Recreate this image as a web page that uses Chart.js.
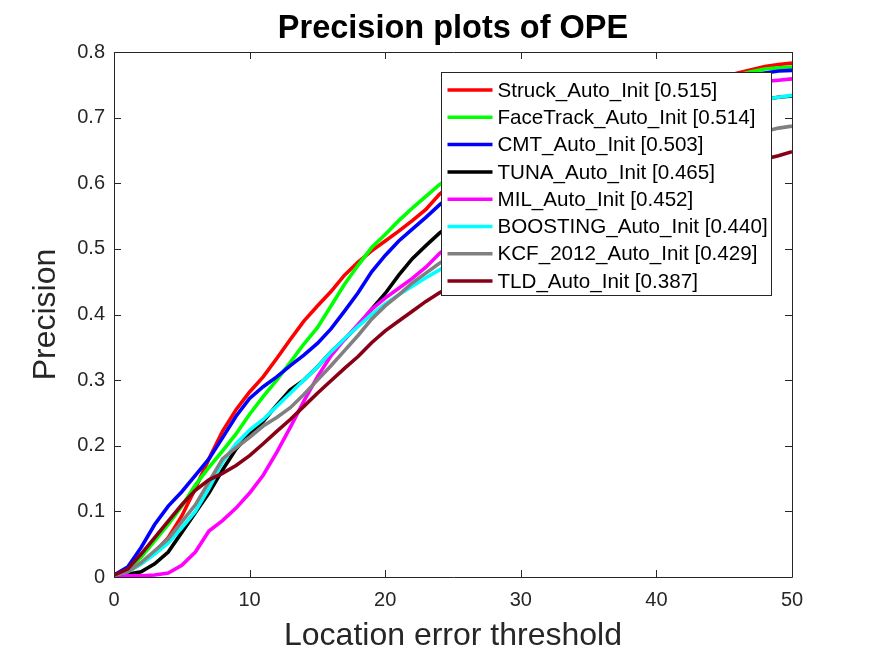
<!DOCTYPE html>
<html>
<head>
<meta charset="utf-8">
<script src="https://cdn.jsdelivr.net/npm/chart.js@4.4.0/dist/chart.umd.min.js"></script>
<style>
html,body{margin:0;padding:0;background:#fff;}
#wrap{position:relative;width:875px;height:656px;}
</style>
</head>
<body>
<div id="wrap"><canvas id="c"></canvas></div>
<script>
const thresholds = [0,1,2,3,4,5,6,7,8,9,10,11,12,13,14,15,16,17,18,19,20,21,22,23,24,25,26,27,28,29,30,31,32,33,34,35,36,37,38,39,40,41,42,43,44,45,46,47,48,49,50];
const trackerNames = ['Struck_Auto_Init','FaceTrack_Auto_Init','CMT_Auto_Init','TUNA_Auto_Init','MIL_Auto_Init','BOOSTING_Auto_Init','KCF_2012_Auto_Init','TLD_Auto_Init'];
const trackerScores = ['0.515','0.514','0.503','0.465','0.452','0.440','0.429','0.387'];
const trackerColors = ['#ff0000','#00ff00','#0000ff','#000000','#ff00ff','#00ffff','#808080','#880015'];
const xTicks = [0,10,20,30,40,50];
const yTicks = [0,0.1,0.2,0.3,0.4,0.5,0.6,0.7,0.8];

const struck = [0.003,0.008,0.02,0.038,0.06,0.093,0.135,0.18,0.222,0.255,0.282,0.305,0.333,0.362,0.39,0.413,0.435,0.46,0.48,0.497,0.512,0.527,0.543,0.56,0.583,0.6,0.615,0.628,0.641,0.653,0.664,0.674,0.684,0.693,0.701,0.709,0.716,0.723,0.729,0.735,0.74,0.745,0.75,0.754,0.758,0.762,0.768,0.773,0.778,0.781,0.783];
const faceTrack = [0.003,0.01,0.03,0.055,0.08,0.108,0.14,0.167,0.192,0.218,0.248,0.275,0.3,0.327,0.355,0.38,0.413,0.446,0.475,0.502,0.522,0.543,0.562,0.58,0.598,0.613,0.627,0.64,0.652,0.663,0.673,0.682,0.691,0.699,0.706,0.713,0.72,0.726,0.732,0.737,0.742,0.747,0.751,0.755,0.759,0.762,0.765,0.77,0.774,0.776,0.777];
const cmt = [0.003,0.015,0.045,0.08,0.108,0.13,0.155,0.18,0.212,0.245,0.272,0.29,0.305,0.322,0.338,0.356,0.378,0.405,0.433,0.465,0.49,0.512,0.53,0.548,0.567,0.584,0.6,0.615,0.629,0.642,0.654,0.665,0.675,0.684,0.693,0.701,0.709,0.716,0.723,0.729,0.735,0.74,0.745,0.75,0.754,0.758,0.762,0.765,0.768,0.771,0.772];
const tuna = [0.003,0.004,0.008,0.02,0.038,0.068,0.098,0.128,0.163,0.195,0.218,0.237,0.262,0.285,0.3,0.32,0.343,0.362,0.383,0.408,0.432,0.46,0.485,0.505,0.524,0.54,0.555,0.569,0.582,0.595,0.607,0.618,0.629,0.639,0.649,0.658,0.667,0.675,0.683,0.69,0.697,0.703,0.708,0.713,0.717,0.721,0.724,0.726,0.728,0.731,0.733];
const mil = [0.002,0.002,0.002,0.003,0.006,0.018,0.038,0.07,0.086,0.105,0.128,0.155,0.19,0.228,0.268,0.305,0.337,0.362,0.385,0.408,0.425,0.44,0.455,0.472,0.493,0.51,0.527,0.543,0.559,0.575,0.59,0.604,0.618,0.631,0.643,0.655,0.666,0.677,0.687,0.697,0.706,0.714,0.721,0.728,0.734,0.74,0.745,0.75,0.755,0.757,0.759];
const boosting = [0.003,0.008,0.02,0.035,0.052,0.075,0.1,0.135,0.175,0.203,0.224,0.24,0.26,0.28,0.3,0.32,0.343,0.363,0.382,0.4,0.416,0.43,0.443,0.456,0.468,0.482,0.497,0.512,0.527,0.542,0.557,0.571,0.585,0.598,0.611,0.623,0.635,0.646,0.657,0.667,0.676,0.685,0.693,0.701,0.708,0.714,0.72,0.725,0.728,0.731,0.734];
const kcf2012 = [0.003,0.008,0.022,0.04,0.058,0.084,0.11,0.145,0.18,0.197,0.213,0.23,0.243,0.258,0.278,0.3,0.322,0.345,0.368,0.393,0.413,0.43,0.448,0.463,0.478,0.49,0.502,0.513,0.524,0.535,0.545,0.555,0.565,0.574,0.583,0.592,0.6,0.608,0.616,0.623,0.63,0.637,0.643,0.649,0.655,0.661,0.667,0.673,0.679,0.684,0.687];
const tld = [0.003,0.012,0.035,0.06,0.085,0.11,0.132,0.148,0.158,0.17,0.185,0.203,0.222,0.24,0.26,0.28,0.299,0.318,0.336,0.357,0.375,0.39,0.405,0.42,0.433,0.445,0.457,0.468,0.479,0.489,0.499,0.509,0.518,0.527,0.536,0.545,0.554,0.562,0.57,0.578,0.586,0.594,0.601,0.608,0.615,0.621,0.627,0.632,0.637,0.642,0.648];

const seriesValues = [struck, faceTrack, cmt, tuna, mil, boosting, kcf2012, tld];

const FONT = "'Liberation Sans', Arial, Helvetica, sans-serif";
const AXIS_COLOR = '#262626';

const datasets = seriesValues.map((vals, i) => ({
  label: trackerNames[i] + ' [' + trackerScores[i] + ']',
  data: thresholds.map((t, k) => ({x: t, y: vals[k]})),
  borderColor: trackerColors[i],
  backgroundColor: trackerColors[i],
  borderWidth: 3.6,
  pointRadius: 0,
  tension: 0,
  fill: false,
  order: seriesValues.length - i
}));

const frameAndTicks = {
  id: 'frameAndTicks',
  afterDatasetsDraw(chart) {
    const {ctx, chartArea: a, scales} = chart;
    ctx.save();
    ctx.strokeStyle = AXIS_COLOR;
    ctx.lineWidth = 1;
    ctx.beginPath();
    ctx.rect(Math.round(a.left) + 0.5, Math.round(a.top) + 0.5, Math.round(a.right - a.left), Math.round(a.bottom - a.top));
    ctx.stroke();
    const tl = 7;
    ctx.beginPath();
    xTicks.forEach(v => {
      const px = Math.round(scales.x.getPixelForValue(v)) + 0.5;
      ctx.moveTo(px, a.bottom); ctx.lineTo(px, a.bottom - tl);
      ctx.moveTo(px, a.top); ctx.lineTo(px, a.top + tl);
    });
    yTicks.forEach(v => {
      const py = Math.round(scales.y.getPixelForValue(v)) + 0.5;
      ctx.moveTo(a.left, py); ctx.lineTo(a.left + tl, py);
      ctx.moveTo(a.right, py); ctx.lineTo(a.right - tl, py);
    });
    ctx.stroke();

    // legend box (top-right, inside axes)
    const boxW = 330, boxH = 223;
    const bx = Math.round(a.right - 21 - boxW) + 0.5;
    const by = Math.round(a.top + 20) + 0.5;
    ctx.fillStyle = '#ffffff';
    ctx.fillRect(bx, by, boxW, boxH);
    ctx.strokeStyle = AXIS_COLOR;
    ctx.lineWidth = 1;
    ctx.strokeRect(bx, by, boxW, boxH);
    ctx.font = '20.6px ' + FONT;
    ctx.textBaseline = 'middle';
    ctx.textAlign = 'left';
    chart.data.datasets.forEach((ds, i) => {
      const y = by + 17.5 + i * 27.3;
      ctx.strokeStyle = ds.borderColor;
      ctx.lineWidth = 3.5;
      ctx.beginPath();
      ctx.moveTo(bx + 6, y); ctx.lineTo(bx + 51, y);
      ctx.stroke();
      ctx.fillStyle = '#000000';
      ctx.fillText(ds.label, bx + 56, y + 1);
    });
    ctx.restore();
  }
};

new Chart(document.getElementById('c'), {
  type: 'line',
  data: { datasets },
  plugins: [frameAndTicks],
  options: {
    responsive: true,
    maintainAspectRatio: false,
    animation: false,
    devicePixelRatio: 1,
    layout: { padding: { left: 0, right: 83, top: 0, bottom: 0 } },
    plugins: {
      legend: { display: false },
      tooltip: { enabled: false },
      title: {
        display: true,
        text: 'Precision plots of OPE',
        color: '#000000',
        fullSize: false,
        font: { family: FONT, size: 32.5, weight: 'bold', lineHeight: 1.2 },
        padding: { top: 10, bottom: 3 }
      }
    },
    scales: {
      x: {
        type: 'linear',
        min: 0, max: 50,
        afterBuildTicks(s) { s.ticks = xTicks.map(v => ({value: v})); },
        afterFit(s) { s.height = 79; },
        grid: { display: false, drawTicks: false },
        border: { display: false },
        ticks: { color: AXIS_COLOR, padding: 11, font: { family: FONT, size: 20 } },
        title: {
          display: true, text: 'Location error threshold', color: AXIS_COLOR,
          font: { family: FONT, size: 32 }, padding: { top: 0, bottom: 1 }
        }
      },
      y: {
        type: 'linear',
        min: 0, max: 0.8,
        afterBuildTicks(s) { s.ticks = yTicks.map(v => ({value: v})); },
        afterFit(s) { s.width = 114; },
        grid: { display: false, drawTicks: false },
        border: { display: false },
        ticks: {
          color: AXIS_COLOR, padding: 9, font: { family: FONT, size: 20 },
          callback: v => String(Math.round(v * 10) / 10)
        },
        title: {
          display: true, text: 'Precision', color: AXIS_COLOR,
          font: { family: FONT, size: 32 }, padding: { top: 27, bottom: 0 }
        }
      }
    }
  }
});
</script>
</body>
</html>
